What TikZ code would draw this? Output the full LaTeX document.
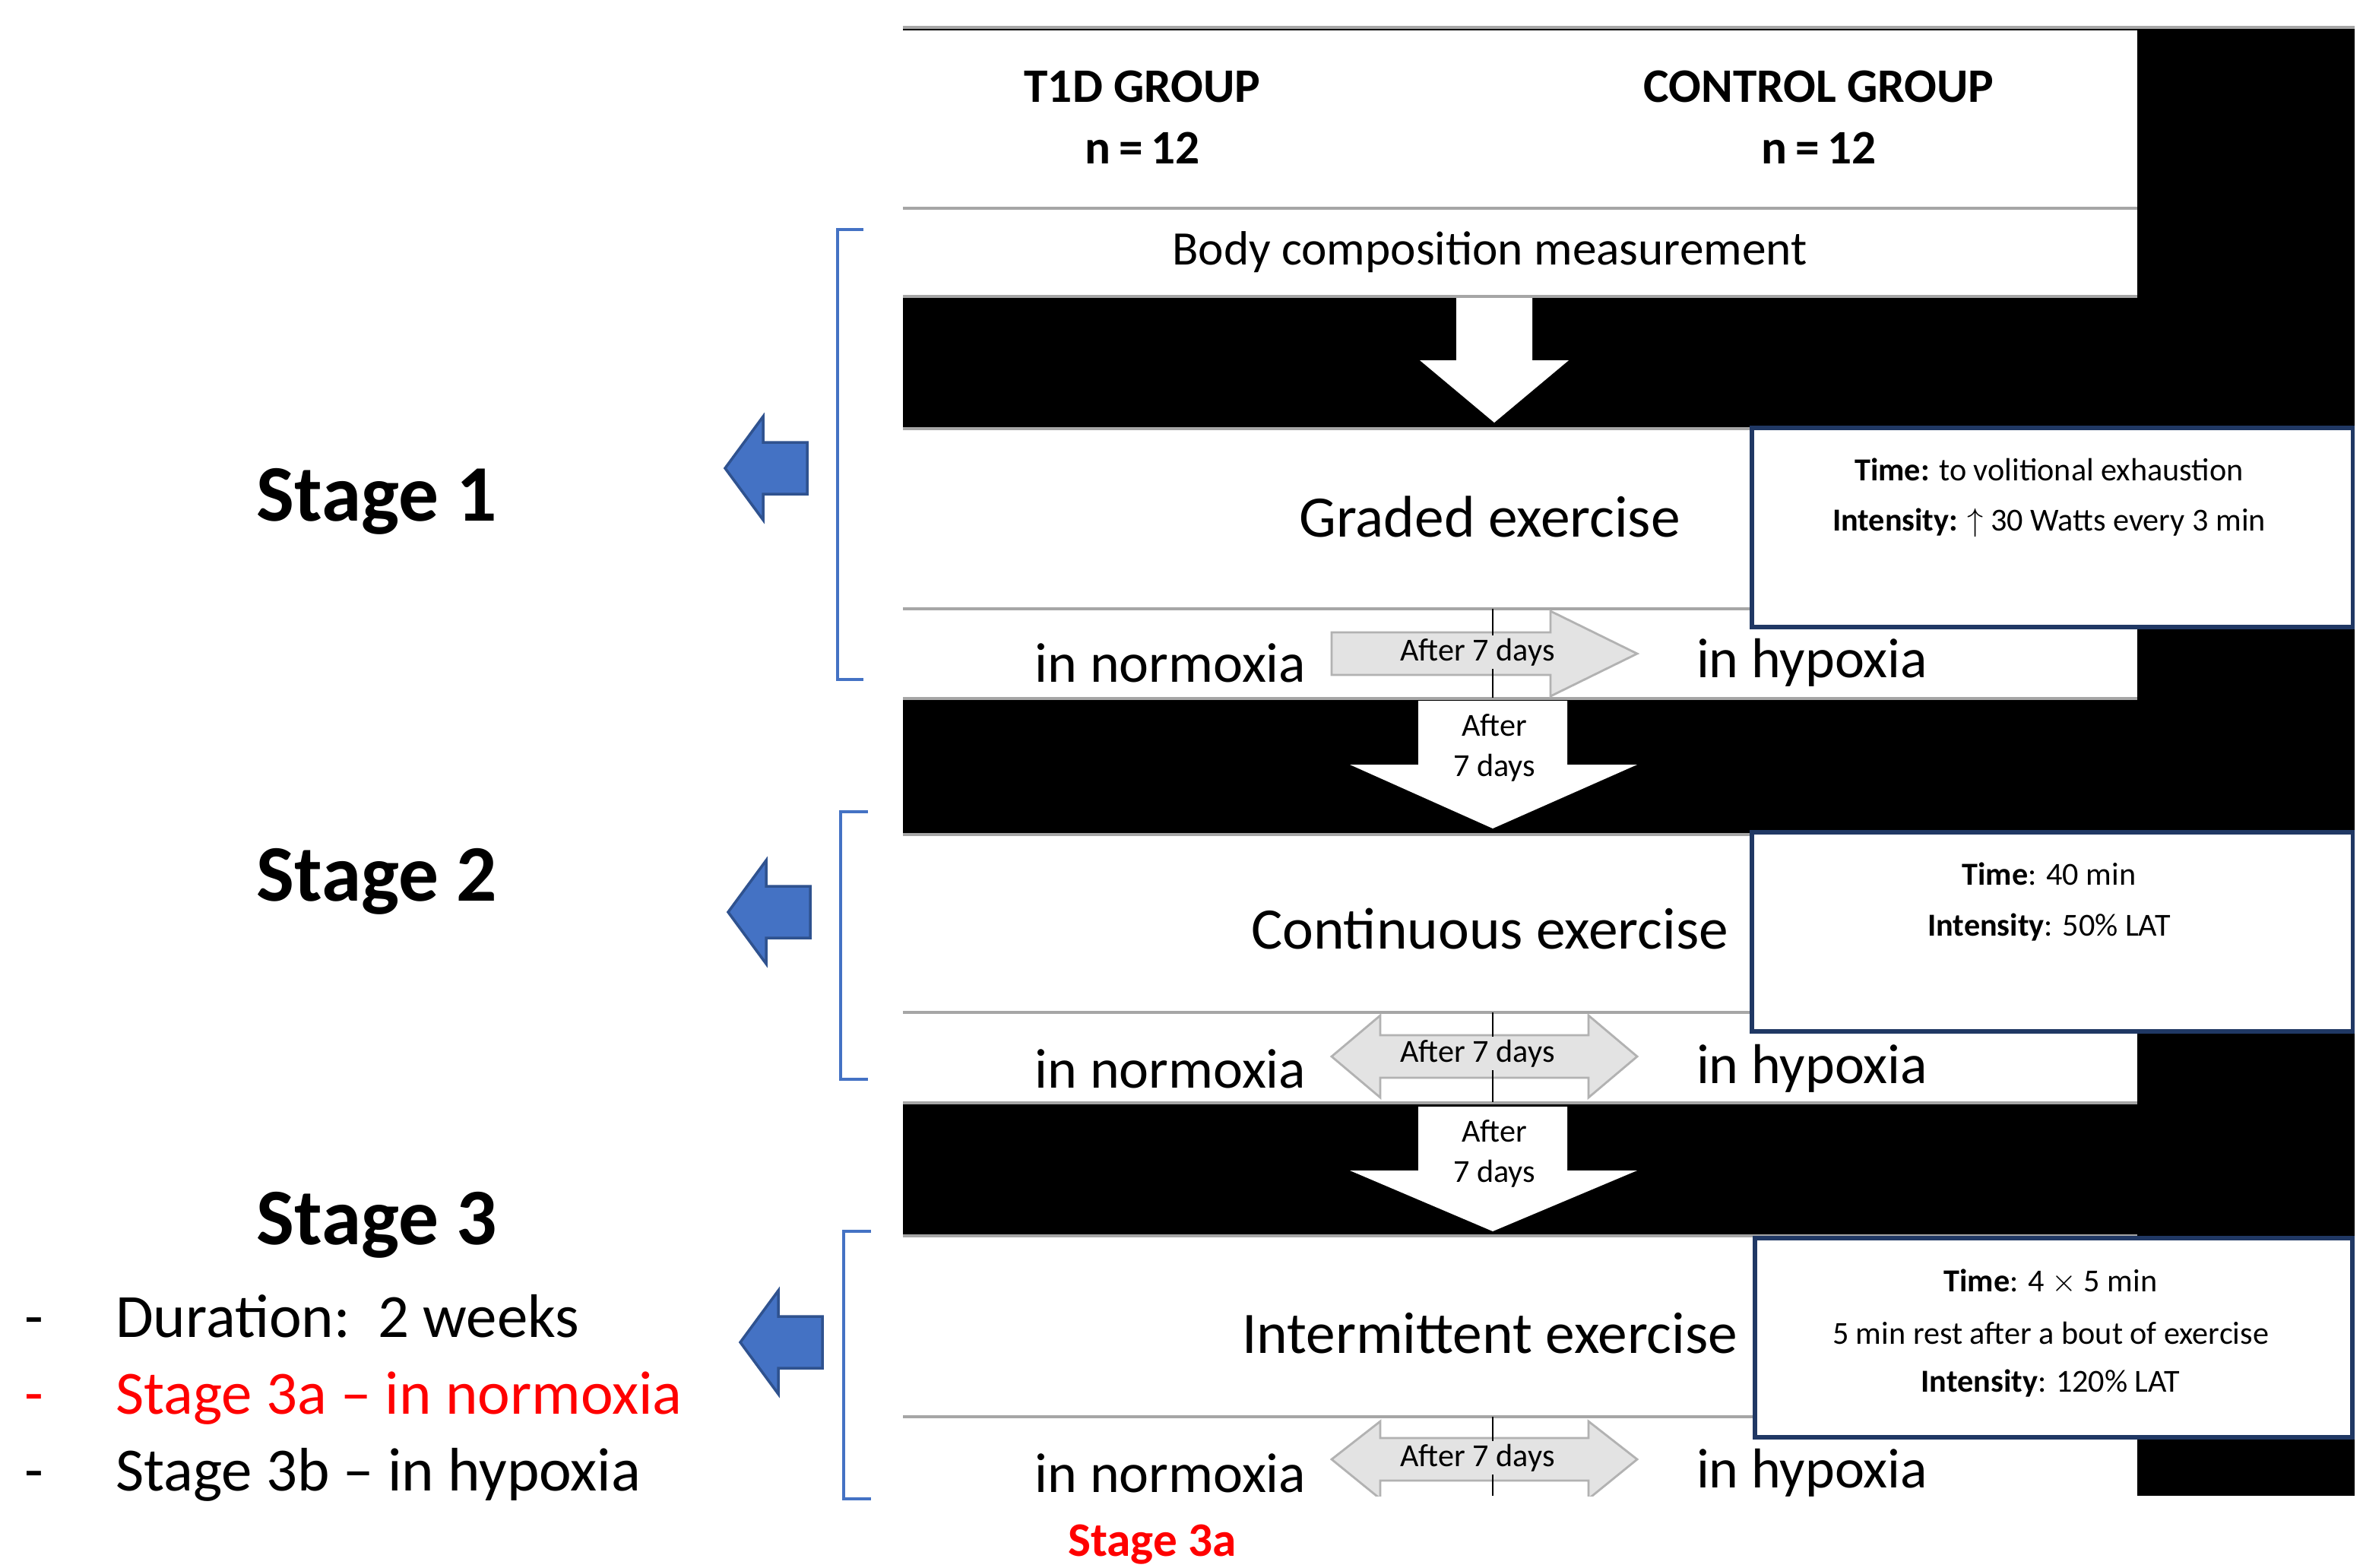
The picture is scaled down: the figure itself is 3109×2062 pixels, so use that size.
\documentclass[tikz,border=0pt]{standalone}
\usepackage{fontspec}
\setmainfont{Carlito}
\begin{document}
\begin{tikzpicture}[x=0.01cm,y=-0.01cm,
  sep/.style={draw=gray!70,line width=1.2pt},
  info/.style={draw={rgb,255:red,32;green,56;blue,100},line width=1.6pt,fill=white,inner sep=0pt},
  darr/.style={fill=white,draw=none},
  harr/.style={fill=gray!22,draw=gray!60,line width=0.8pt},
  barr/.style={fill={rgb,255:red,68;green,114;blue,196},draw={rgb,255:red,47;green,82;blue,143},line width=1pt},
  brk/.style={draw={rgb,255:red,68;green,114;blue,196},line width=1.2pt},
  big/.style={font=\fontsize{22}{26}\selectfont},
  row/.style={font=\fontsize{21}{25}\selectfont},
  mid/.style={font=\fontsize{18}{23}\selectfont},
  sm/.style={font=\fontsize{12}{15}\selectfont},
  box/.style={font=\fontsize{12}{15}\selectfont},
  stage/.style={font=\fontsize{30}{36}\selectfont\bfseries},
  lst/.style={font=\fontsize{23}{28}\selectfont,anchor=west}]
\useasboundingbox (0,0) rectangle (3109,2062);
% black background
\fill[black] (1188,36) rectangle (3098,1968);
% white rows
\fill[white] (1188,40) rectangle (2812,272);
\fill[white] (1188,276) rectangle (2812,388);
\fill[white] (1188,564) rectangle (2812,800);
\fill[white] (1188,802) rectangle (2812,918);
\fill[white] (1188,1098) rectangle (2812,1330);
\fill[white] (1188,1334) rectangle (2812,1450);
\fill[white] (1188,1626) rectangle (2812,1862);
\fill[white] (1188,1866) rectangle (2812,1968);
\draw[sep] (1188,36) -- (3098,36);
\draw[sep] (1188,274) -- (2812,274);
\draw[sep] (1188,390) -- (2812,390);
\draw[sep] (1188,564) -- (2812,564);
\draw[sep] (1188,801) -- (2812,801);
\draw[sep] (1188,919) -- (2812,919);
\draw[sep] (1188,1098) -- (2812,1098);
\draw[sep] (1188,1332) -- (2812,1332);
\draw[sep] (1188,1451) -- (2812,1451);
\draw[sep] (1188,1626) -- (2812,1626);
\draw[sep] (1188,1864) -- (2812,1864);
% header
\node[align=center,font=\fontsize{18}{23}\selectfont\bfseries] (t1d) at (1503,154) {T1D GROUP\\n\,=\,12};
\node[align=center,font=\fontsize{18}{23}\selectfont\bfseries] (ctl) at (2393,154) {CONTROL GROUP\\n\,=\,12};
\node[mid] (body) at (1960,332) {Body composition measurement};
% down arrow 1
\fill[darr] (1916,392) -- (2016,392) -- (2016,474) -- (2064,474) -- (1966,556) -- (1868,474) -- (1916,474) -- cycle;
% stage 1 rows
\node[big] (graded) at (1960,680) {Graded exercise};
\node[row] (n1) at (1540,872) {in normoxia};
\node[row] (h1) at (2384,872) {in hypoxia};
\filldraw[harr] (1752,832) -- (2040,832) -- (2040,804) -- (2154,860) -- (2040,916) -- (2040,888) -- (1752,888) -- cycle;
\draw[black,line width=0.8pt] (1964,801) -- (1964,918);
\node[sm,fill=gray!22,inner sep=1pt] (a1) at (1944,858) {After 7 days};
\node[info,minimum width=7.9cm,minimum height=2.62cm,anchor=north west] (box1) at (2302,560) {};
\node[box] (b1a) at (2696,618) {\textbf{Time:} to volitional exhaustion};
\node[box] (b1b) at (2696,688) {\textbf{Intensity:} $\uparrow$ 30 Watts every 3 min};
% down arrow 2
\fill[darr] (1866,922) -- (2062,922) -- (2062,1006) -- (2154,1006) -- (1964,1090) -- (1776,1006) -- (1866,1006) -- cycle;
\node[sm,align=center] (d2) at (1966,984) {After\\7 days};
% stage 2
\node[big] (cont) at (1960,1222) {Continuous exercise};
\node[row] (n2) at (1540,1406) {in normoxia};
\node[row] (h2) at (2384,1406) {in hypoxia};
\filldraw[harr] (1752,1390) -- (1816,1336) -- (1816,1362) -- (2090,1362) -- (2090,1336) -- (2154,1390) -- (2090,1444) -- (2090,1418) -- (1816,1418) -- (1816,1444) -- cycle;
\draw[black,line width=0.8pt] (1964,1332) -- (1964,1450);
\node[sm,fill=gray!22,inner sep=1pt] (a2) at (1944,1386) {After 7 days};
\node[info,minimum width=7.9cm,minimum height=2.62cm,anchor=north west] (box2) at (2302,1092) {};
\node[box] (b2a) at (2696,1150) {\textbf{Time}: 40 min};
\node[box] (b2b) at (2696,1220) {\textbf{Intensity}: 50\% LAT};
% down arrow 3
\fill[darr] (1866,1456) -- (2062,1456) -- (2062,1540) -- (2154,1540) -- (1964,1620) -- (1776,1540) -- (1866,1540) -- cycle;
\node[sm,align=center] (d3) at (1966,1518) {After\\7 days};
% stage 3
\node[big] (inter) at (1960,1754) {Intermittent exercise};
\node[row] (n3) at (1540,1938) {in normoxia};
\node[row] (h3) at (2384,1938) {in hypoxia};
\begin{scope}
\clip (1700,1864) rectangle (2200,1968);
\filldraw[harr] (1752,1920) -- (1816,1870) -- (1816,1892) -- (2090,1892) -- (2090,1870) -- (2154,1920) -- (2090,1972) -- (2090,1948) -- (1816,1948) -- (1816,1972) -- cycle;
\draw[black,line width=0.8pt] (1964,1864) -- (1964,1968);
\end{scope}
\node[sm,fill=gray!22,inner sep=1pt] (a3) at (1944,1918) {After 7 days};
\node[info,minimum width=7.86cm,minimum height=2.62cm,anchor=north west] (box3) at (2306,1626) {};
\node[box] (b3a) at (2698,1686) {\textbf{Time}: 4 $\times$ 5 min};
\node[box] (b3b) at (2698,1754) {5 min rest after a bout of exercise};
\node[box] (b3c) at (2698,1820) {\textbf{Intensity}: 120\% LAT};
\node[font=\fontsize{18}{22}\selectfont\bfseries,text=red] (s3a) at (1516,2032) {Stage 3a};
% left side
\node[stage] (st1) at (496,660) {Stage 1};
\node[stage] (st2) at (496,1160) {Stage 2};
\node[stage] (st3) at (496,1612) {Stage 3};
\node[lst] (l1) at (20,1732) {-\hspace{0.95cm}Duration:\ \ 2 weeks};
\node[lst,text=red] (l2) at (20,1840) {-\hspace{0.95cm}Stage 3a -- in normoxia};
\node[lst] (l3) at (20,1940) {-\hspace{0.95cm}Stage 3b -- in hypoxia};
% brackets
\draw[brk] (1136,302) -- (1102,302) -- (1102,894) -- (1136,894);
\draw[brk] (1142,1068) -- (1106,1068) -- (1106,1420) -- (1142,1420);
\draw[brk] (1146,1620) -- (1110,1620) -- (1110,1972) -- (1146,1972);
% blue arrows
\filldraw[barr] (954,616) -- (1004,548) -- (1004,582) -- (1062,582) -- (1062,650) -- (1004,650) -- (1004,684) -- cycle;
\filldraw[barr] (958,1200) -- (1008,1132) -- (1008,1166) -- (1066,1166) -- (1066,1234) -- (1008,1234) -- (1008,1268) -- cycle;
\filldraw[barr] (974,1766) -- (1024,1698) -- (1024,1732) -- (1082,1732) -- (1082,1800) -- (1024,1800) -- (1024,1834) -- cycle;
\end{tikzpicture}
\end{document}
